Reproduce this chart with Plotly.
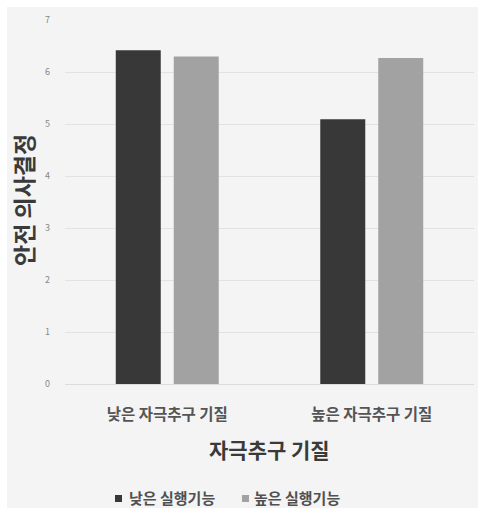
import plotly.graph_objects as go

categories = ["낮은 자극추구 기질", "높은 자극추구 기질"]
series_names = ["낮은 실행기능", "높은 실행기능"]
series_colors = ["#383838", "#a2a2a2"]
low_exec = [6.42, 5.09]
high_exec = [6.30, 6.27]
y_ticks = [0, 1, 2, 3, 4, 5, 6, 7]
x_title = "자극추구 기질"
y_title = "안전 의사결정"

FONT = "Noto Sans CJK KR"
W, H = 478, 508
L, R, T, B = 65, 4, 20, 124

fig = go.Figure()
for name, vals, col in zip(series_names, [low_exec, high_exec], series_colors):
    fig.add_trace(go.Bar(x=categories, y=vals, name=name, showlegend=False,
                         marker=dict(color=col, line=dict(width=0))))

pw = W - L - R
ph = H - T - B
def px_x(x):
    return (x - L) / pw
def px_y(y):
    return (H - B - y) / ph

# panel background
fig.add_shape(type="rect", xref="paper", yref="paper",
              x0=px_x(7), x1=px_x(478), y0=px_y(508), y1=px_y(7),
              fillcolor="#f4f4f4", line=dict(width=0), layer="below")

# axis titles
fig.add_annotation(text=x_title, xref="paper", yref="paper",
                   x=0.5, y=px_y(449), showarrow=False, yanchor="middle",
                   font=dict(family=FONT, size=21, color="#3a3a3a", weight="bold"))
fig.add_annotation(text=y_title, xref="paper", yref="paper",
                   x=px_x(23), y=px_y(200), showarrow=False, textangle=-90,
                   xanchor="center", yanchor="middle",
                   font=dict(family=FONT, size=23, color="#3a3a3a", weight="bold"))

# legend (square swatch + label)
legend_sq_x = [115, 242]
legend_txt_x = [127, 252]
for name, col, sx, tx in zip(series_names, series_colors, legend_sq_x, legend_txt_x):
    fig.add_shape(type="rect", xref="paper", yref="paper",
                  x0=px_x(sx), x1=px_x(sx + 7), y0=px_y(502), y1=px_y(495),
                  fillcolor=col, line=dict(width=0))
    fig.add_annotation(text=name, xref="paper", yref="paper",
                       x=px_x(tx), y=px_y(497.5), xanchor="left", yanchor="middle",
                       showarrow=False,
                       font=dict(family=FONT, size=15, color="#505050", weight="bold"))

fig.update_layout(
    width=W, height=H,
    margin=dict(l=L, r=R, t=T, b=B, autoexpand=False),
    paper_bgcolor="white",
    plot_bgcolor="rgba(0,0,0,0)",
    barmode="group",
    bargap=0.433,
    bargroupgap=0.224,
    font=dict(family=FONT),
    showlegend=False,
)
fig.update_xaxes(showgrid=False, showline=True, linecolor="#dcdcdc", linewidth=1,
                 ticks="", tickfont=dict(family=FONT, size=15.5, color="#555555", weight="bold"),
                 ticklabelstandoff=16)
fig.update_yaxes(range=[0, 7], tickvals=y_ticks, showgrid=True, gridcolor="#e2e2e2",
                 gridwidth=1, zeroline=False, showline=False, ticks="",
                 tickfont=dict(family=FONT, size=9, color="#888888"),
                 ticklabelstandoff=14)

fig.write_html("out.html")
